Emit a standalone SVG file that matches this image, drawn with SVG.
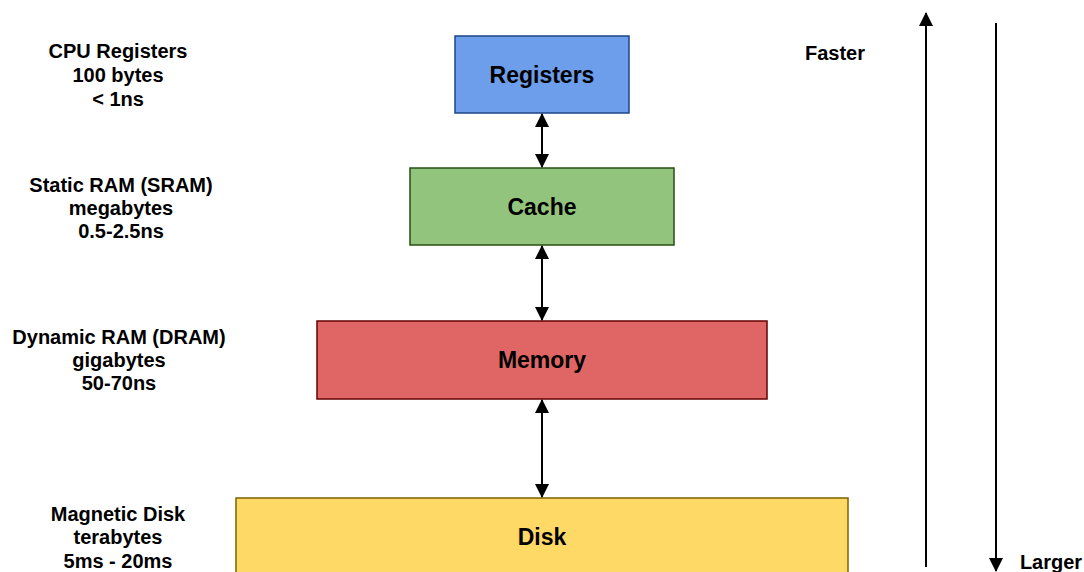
<svg xmlns="http://www.w3.org/2000/svg" width="1084" height="572" viewBox="0 0 1084 572">
  <style>
    .lbl { font-family: "Liberation Sans", Arial, sans-serif; font-weight: bold; font-size: 20px; fill: #000; text-anchor: middle; }
    .box-text { font-family: "Liberation Sans", Arial, sans-serif; font-weight: bold; font-size: 23px; fill: #000; text-anchor: middle; }
    .link { stroke: #000; stroke-width: 2; fill: none; }
  </style>
  <defs>
    <marker id="head" markerUnits="userSpaceOnUse" markerWidth="14" markerHeight="16" viewBox="0 0 14 16" refX="13" refY="7" orient="auto">
      <path d="M0,0 L14,7 L0,14 Z" fill="#000"/>
    </marker>
    <marker id="tail" markerUnits="userSpaceOnUse" markerWidth="14" markerHeight="16" viewBox="0 0 14 16" refX="1" refY="7" orient="auto">
      <path d="M14,0 L0,7 L14,14 Z" fill="#000"/>
    </marker>
  </defs>
  <rect width="1084" height="572" fill="#fff"/>

  <!-- memory levels -->
  <g id="registers">
    <rect x="455" y="36" width="174" height="77" fill="#6d9eeb" stroke="#1c4587" stroke-width="1.5"/>
    <text class="box-text" x="542" y="83">Registers</text>
  </g>
  <g id="cache">
    <rect x="410" y="168" width="264" height="77" fill="#93c47d" stroke="#274e13" stroke-width="1.5"/>
    <text class="box-text" x="542" y="215">Cache</text>
  </g>
  <g id="memory">
    <rect x="317" y="321" width="450" height="78" fill="#e06666" stroke="#660000" stroke-width="1.5"/>
    <text class="box-text" x="542" y="368">Memory</text>
  </g>
  <g id="disk">
    <rect x="236" y="498" width="612" height="90" fill="#ffd966" stroke="#7f6000" stroke-width="1.5"/>
    <text class="box-text" x="542" y="545">Disk</text>
  </g>

  <!-- level descriptions -->
  <g id="desc-registers">
    <text class="lbl" x="118" y="58">CPU Registers</text>
    <text class="lbl" x="118" y="82">100 bytes</text>
    <text class="lbl" x="118" y="106">&lt; 1ns</text>
  </g>
  <g id="desc-cache">
    <text class="lbl" x="121" y="192">Static RAM (SRAM)</text>
    <text class="lbl" x="121" y="215">megabytes</text>
    <text class="lbl" x="121" y="238">0.5-2.5ns</text>
  </g>
  <g id="desc-memory">
    <text class="lbl" x="119" y="344">Dynamic RAM (DRAM)</text>
    <text class="lbl" x="119" y="367">gigabytes</text>
    <text class="lbl" x="119" y="390">50-70ns</text>
  </g>
  <g id="desc-disk">
    <text class="lbl" x="118" y="521">Magnetic Disk</text>
    <text class="lbl" x="118" y="544">terabytes</text>
    <text class="lbl" x="118" y="568">5ms - 20ms</text>
  </g>

  <!-- axis captions -->
  <g id="faster">
    <text class="lbl" x="835" y="60">Faster</text>
  </g>
  <g id="larger">
    <text class="lbl" x="1051" y="569">Larger</text>
  </g>

  <!-- connectors -->
  <g id="connectors">
    <line class="link" x1="542" y1="114" x2="542" y2="167" marker-start="url(#tail)" marker-end="url(#head)"/>
    <line class="link" x1="542" y1="246" x2="542" y2="320" marker-start="url(#tail)" marker-end="url(#head)"/>
    <line class="link" x1="542" y1="400" x2="542" y2="497" marker-start="url(#tail)" marker-end="url(#head)"/>
    <line class="link" x1="926" y1="567" x2="926" y2="13" marker-end="url(#head)"/>
    <line class="link" x1="996" y1="23" x2="996" y2="571" marker-end="url(#head)"/>
  </g>
</svg>
